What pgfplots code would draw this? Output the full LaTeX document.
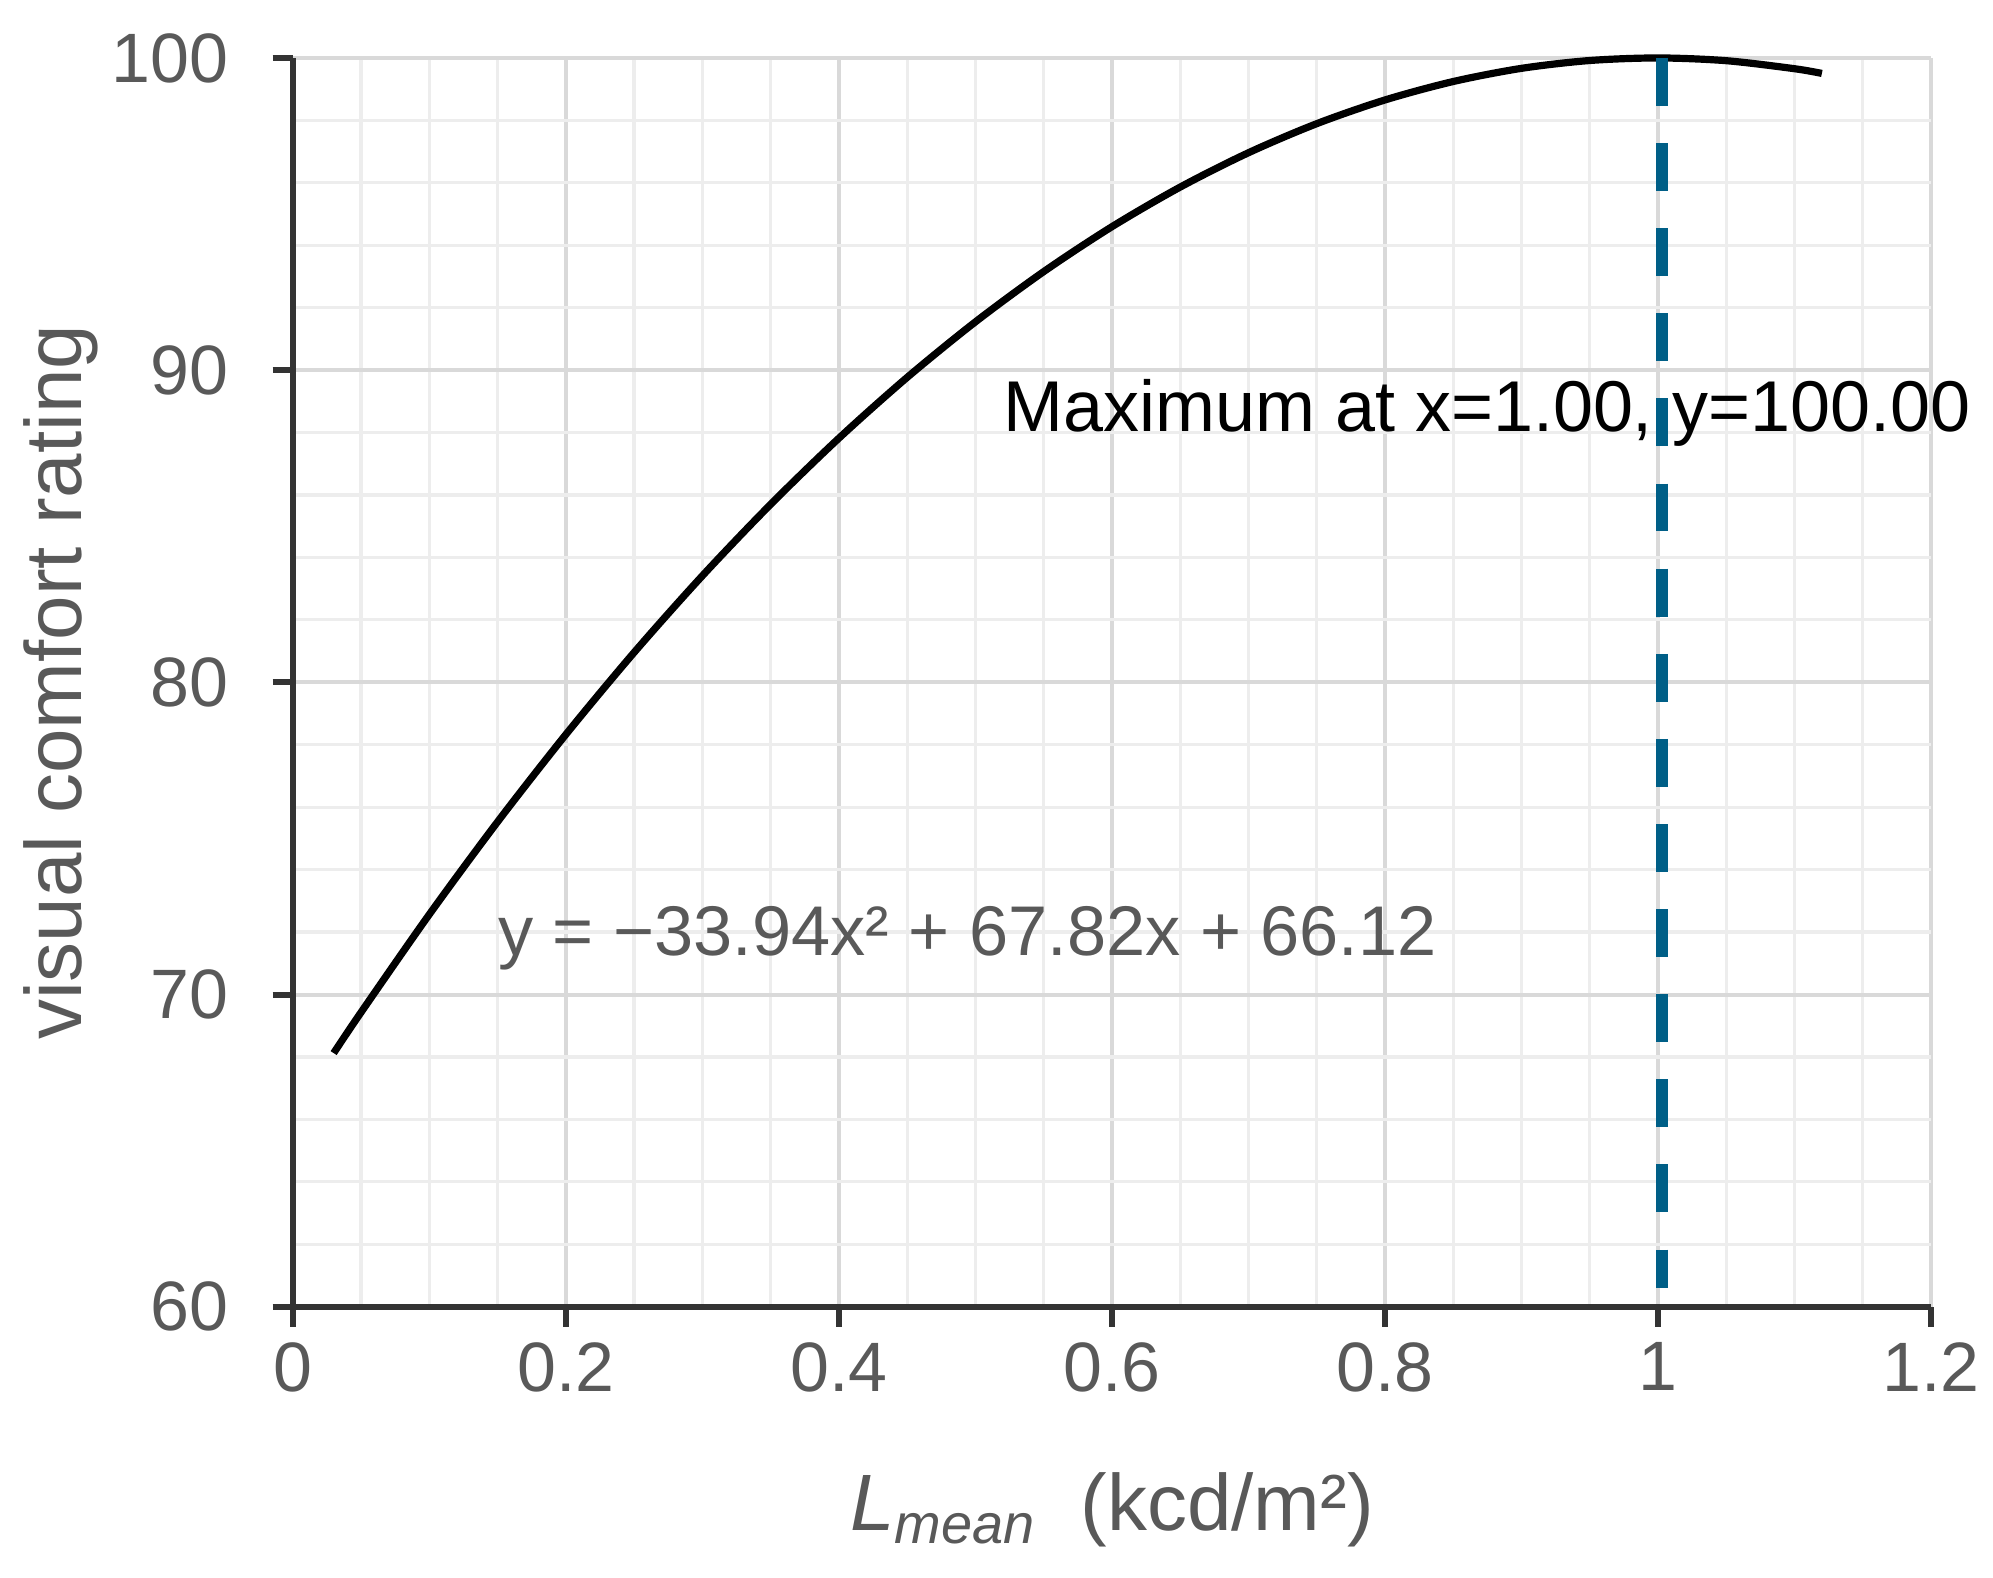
\documentclass[border=0pt]{standalone}
\usepackage{pgfplots}
\pgfplotsset{compat=1.18}
\usepackage{fontspec}
\setmainfont{Liberation Sans}
\definecolor{txtgray}{HTML}{595959}
\definecolor{axgray}{HTML}{333333}
\definecolor{majgrid}{HTML}{D9D9D9}
\definecolor{mingrid}{HTML}{EDEDED}
\definecolor{dashblue}{HTML}{005F87}
\begin{document}
\begin{tikzpicture}
\begin{axis}[
  scale only axis,
  width=410pt, height=312.5pt,
  xmin=0, xmax=1.2, ymin=60, ymax=100,
  axis lines=left,
  axis line style={-, axgray, line width=1.6pt},
  xtick={0,0.2,0.4,0.6,0.8,1,1.2},
  xticklabels={0,0.2,0.4,0.6,0.8,1,1.2},
  ytick={60,70,80,90,100},
  minor x tick num=3,
  minor y tick num=4,
  grid=both,
  major grid style={majgrid, line width=1pt},
  minor grid style={mingrid, line width=0.8pt},
  tick align=outside,
  major tick length=5pt,
  minor tick length=0pt,
  tick style={axgray, line width=1.5pt},
  tick label style={font=\fontsize{17.5}{20}\selectfont, text=txtgray},
  /pgf/number format/assume math mode=true,
  xticklabel style={yshift=-0.5pt},
  yticklabel style={xshift=-7.5pt},
  xlabel={\textit{L}\textsubscript{\textit{mean}}~~(kcd/m²)},
  ylabel={visual comfort rating},
  label style={font=\fontsize{20}{24}\selectfont, text=txtgray},
  xlabel style={at={(axis description cs:0.5,-0.163)}, anchor=center},
  ylabel style={at={(axis description cs:-0.1415,0.5)}, anchor=center},
  clip=false,
]
\addplot[black, line width=1.8pt, smooth] coordinates {
(0.03,68.124) (0.05,69.426) (0.10,72.563) (0.15,75.529) (0.20,78.326)
(0.25,80.954) (0.30,83.411) (0.35,85.699) (0.40,87.818) (0.45,89.766)
(0.50,91.545) (0.55,93.154) (0.60,94.594) (0.65,95.863) (0.70,96.963)
(0.75,97.894) (0.80,98.654) (0.85,99.245) (0.90,99.667) (0.95,99.918)
(1.00,100.000) (1.05,99.912) (1.10,99.655) (1.12,99.504)
};
\addplot[dashblue, line width=3pt, dash pattern=on 12pt off 9.3pt] coordinates {
(1.003,100) (1.003,60.6)
};
\node[anchor=base west, inner sep=0pt, font=\fontsize{18}{22}\selectfont, text=black] at (axis cs:0.52,88.03) {Maximum at x=1.00, y=100.00};
\node[anchor=base west, inner sep=0pt, font=\fontsize{17.6}{22}\selectfont, text=txtgray] at (axis cs:0.150,71.26) {y = −33.94x² + 67.82x + 66.12};
\end{axis}
\path (current axis.south west) ++(-73.25pt,-67.75pt) rectangle ++(498.25pt,394.75pt);
\end{tikzpicture}
\end{document}
